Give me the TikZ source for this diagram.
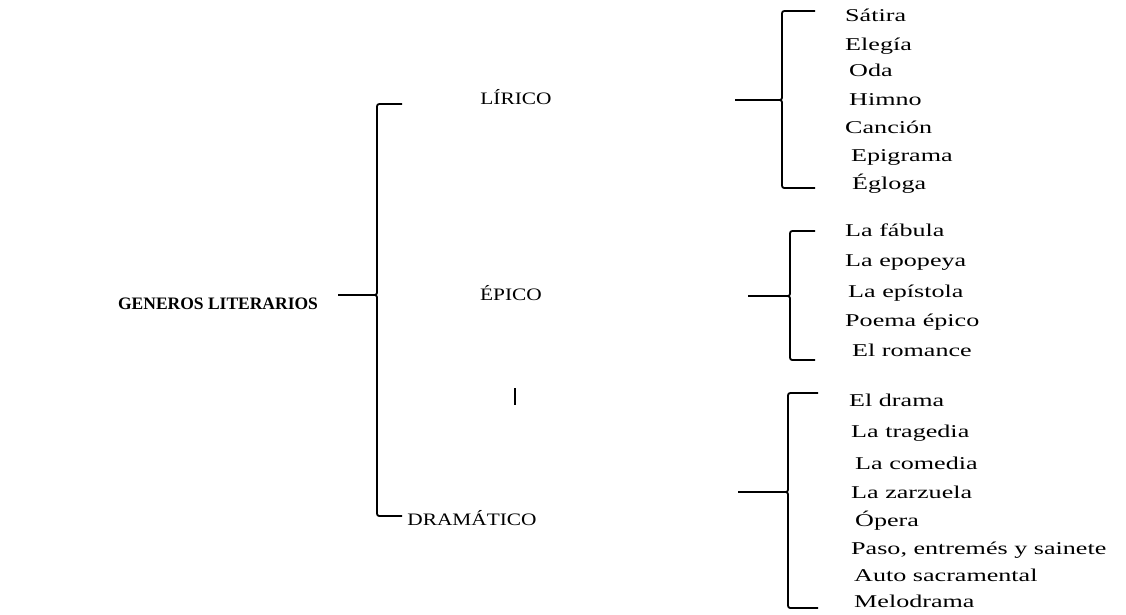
\documentclass[tikz,border=0pt]{standalone}
\usepackage{fontspec}
\setmainfont{Liberation Serif}[FakeStretch=1.45]
\newfontfamily\rootfont{Liberation Serif}[FakeStretch=1.0]
\newfontfamily\headfont{Liberation Serif}[FakeStretch=1.22]
\begin{document}
\begin{tikzpicture}[x=1pt,y=-1pt,
  item/.style={anchor=west,inner sep=0pt,text height=12pt,text depth=3pt,font=\fontsize{18}{20}\selectfont},
  head/.style={anchor=center,inner sep=0pt,text height=12pt,text depth=3pt,font=\headfont\fontsize{17.5}{19}\selectfont},
  root/.style={anchor=center,inner sep=0pt,text height=12pt,text depth=3pt,font=\rootfont\bfseries\fontsize{17.5}{19}\selectfont},
  brace/.style={line width=1.8pt,line cap=butt,line join=round}]
\useasboundingbox (0,0) rectangle (1126,614);
\newcommand\mybrace[6]{% vx top mid bot hookx tipx
  \draw[brace] (#5,#2) -- ({#1+5},#2) .. controls (#1,#2) .. (#1,{#2+5}) -- (#1,{#3-5}) .. controls (#1,#3) .. ({#1-5},#3) -- (#6,#3);
  \draw[brace] ({#1-5},#3) .. controls (#1,#3) .. (#1,{#3+5}) -- (#1,{#4-5}) .. controls (#1,#4) .. ({#1+5},#4) -- (#5,#4);}

\node[root] (g) at (218,305) {GENEROS LITERARIOS};
\node[head] (l) at (516,100) {LÍRICO};
\node[head] (e) at (511,296) {ÉPICO};
\node[head] (d) at (472,521) {DRAMÁTICO};
\coordinate (gtip) at (338,295);
\mybrace{377}{104}{295}{516}{402}{338}

\coordinate (bar1) at (515,388);
\coordinate (bar2) at (515,405);
\draw[line width=1.6pt] (bar1) -- (bar2);

% Lirico
\mybrace{782}{11}{100}{188}{815}{735}
\node[item] (l1) at (845,17) {Sátira};
\node[item] (l2) at (845,46) {Elegía};
\node[item] (l3) at (849,72) {Oda};
\node[item] (l4) at (849,101) {Himno};
\node[item] (l5) at (845,129) {Canción};
\node[item] (l6) at (851,157) {Epigrama};
\node[item] (l7) at (852,185) {Égloga};

% Epico
\mybrace{790}{231}{296}{360}{815}{748}
\node[item] (e1) at (845,232) {La fábula};
\node[item] (e2) at (845,262) {La epopeya};
\node[item] (e3) at (848,293) {La epístola};
\node[item] (e4) at (845,322) {Poema épico};
\node[item] (e5) at (852,352) {El romance};

% Dramatico
\mybrace{788}{393}{492}{608}{818}{738}
\node[item] (d1) at (849,402) {El drama};
\node[item] (d2) at (851,433) {La tragedia};
\node[item] (d3) at (855,465) {La comedia};
\node[item] (d4) at (851,494) {La zarzuela};
\node[item] (d5) at (855,522) {Ópera};
\node[item] (d6) at (851,550) {Paso, entremés y sainete};
\node[item] (d7) at (854,577) {Auto sacramental};
\node[item] (d8) at (854,603) {Melodrama};
\end{tikzpicture}
\end{document}
